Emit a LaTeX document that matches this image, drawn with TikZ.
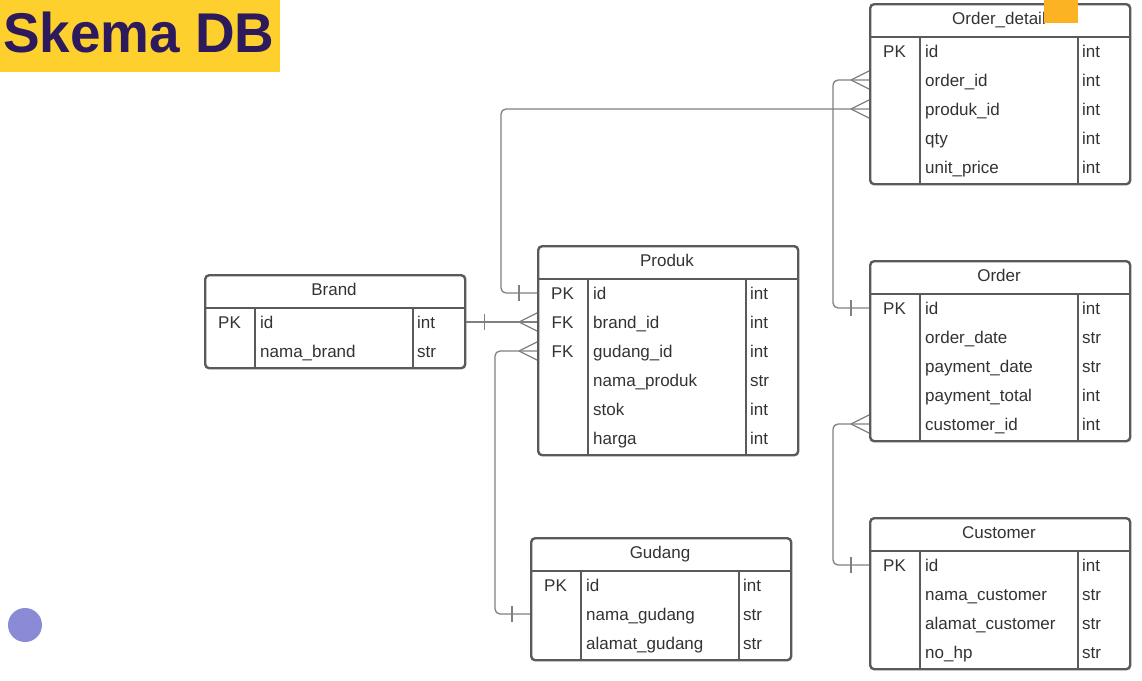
\documentclass[tikz,border=0pt]{standalone}
\usepackage{fontspec}
\setmainfont{Liberation Sans}
\usetikzlibrary{calc}
\definecolor{titlebg}{HTML}{FDD02E}
\definecolor{titlefg}{HTML}{2C1A5C}
\definecolor{framec}{HTML}{5A5A5A}
\definecolor{connc}{HTML}{808080}
\definecolor{txtc}{HTML}{333333}
\definecolor{orangeq}{HTML}{FBB324}
\definecolor{dotc}{HTML}{8A8AD6}
\tikzset{
  tblframe/.style={draw=framec, line width=2.4pt, rounded corners=4pt, inner sep=0pt},
  tblline/.style={draw=framec, line width=2.4pt},
  celltxt/.style={font=\fontsize{17}{20}\selectfont, text=txtc, inner sep=0pt},
  conn/.style={draw=connc, line width=1.3pt, rounded corners=5pt},
  tick/.style={draw=connc, line width=1.3pt}
}
% #1 name, #2 x left, #3 y of header line, #4 title, #5 rows, #6 list key/name/type
\newcommand\ertable[6]{%
  \node[tblframe, anchor=north west, minimum width=260pt,
        minimum height={(64+29*(#5-1))*1pt}] (#1) at (#2,#3-34) {};
  \draw[tblline] (#2,#3) -- (#2+260,#3);
  \draw[tblline] (#2+51,#3) -- (#2+51,#3+30+29*#5-29);
  \draw[tblline] (#2+209,#3) -- (#2+209,#3+30+29*#5-29);
  \node[celltxt, anchor=base] (#1-t) at (#2+130,#3-13) {#4};
  \foreach \k/\n/\t [count=\i] in {#6} {
    \node[celltxt, anchor=base] (#1-k\i) at (#2+25.5,#3+14+29*\i-29+6) {\k};
    \node[celltxt, anchor=base west] (#1-n\i) at (#2+56,#3+14+29*\i-29+6) {\n};
    \node[celltxt, anchor=base west] (#1-y\i) at (#2+213,#3+14+29*\i-29+6) {\t};
  }
}
% connection point on the edge of table #1 (west/east) at row node #2
\newcommand\rowpt[3]{%
  \coordinate (#3) at ($(#1 |- #2.base)+(0,-6)$);
}
% crow's foot on a left-side edge point
\newcommand\crowL[1]{%
  \draw[tick] ($(#1)+(-18,0)$) -- ($(#1)+(0,-9)$);
  \draw[tick] ($(#1)+(-18,0)$) -- ($(#1)+(0,9)$);
}
% bar at distance 18 from an edge point, #2 = +1 or -1 direction outward
\newcommand\barAt[2]{%
  \draw[tick] ($(#1)+(18*#2,-8)$) -- ($(#1)+(18*#2,8)$);
}
\begin{document}
\begin{tikzpicture}[x=1pt,y=-1pt]
\useasboundingbox (0,0) rectangle (1142,680);
\fill[white] (0,0) rectangle (1142,680);

% title
\node[fill=titlebg, anchor=north west, minimum width=280pt, minimum height=72pt, inner sep=0pt] (titlebox) at (0,0) {};
\node[anchor=base west, inner sep=0pt, text=titlefg, font=\fontsize{56}{60}\selectfont\bfseries] (title) at (3,52) {\scalebox{0.98}[1]{Skema DB}};

% tables
\ertable{od}{869}{37}{Order\_detail}{5}{PK/id/int, {}/order\_id/int, {}/produk\_id/int, {}/qty/int, {}/unit\_price/int}
\ertable{or}{869}{294}{Order}{5}{PK/id/int, {}/order\_date/str, {}/payment\_date/str, {}/payment\_total/int, {}/customer\_id/int}
\ertable{cu}{869}{551}{Customer}{4}{PK/id/int, {}/nama\_customer/str, {}/alamat\_customer/str, {}/no\_hp/str}
\ertable{pr}{537}{279}{Produk}{6}{PK/id/int, FK/brand\_id/int, FK/gudang\_id/int, {}/nama\_produk/str, {}/stok/int, {}/harga/int}
\ertable{br}{204}{308}{Brand}{2}{PK/id/int, {}/nama\_brand/str}
\ertable{gu}{530}{571}{Gudang}{3}{PK/id/int, {}/nama\_gudang/str, {}/alamat\_gudang/str}

% connection points
\rowpt{od.west}{od-n2}{odA}
\rowpt{od.west}{od-n3}{odB}
\rowpt{or.west}{or-n1}{orA}
\rowpt{or.west}{or-n5}{orB}
\rowpt{cu.west}{cu-n1}{cuA}
\rowpt{pr.west}{pr-n1}{prA}
\rowpt{pr.west}{pr-n2}{prB}
\rowpt{pr.west}{pr-n3}{prC}
\rowpt{br.east}{br-n1}{brA}
\rowpt{gu.west}{gu-n2}{guA}
\coordinate (j1) at (501,0);
\coordinate (j2) at (833,0);
\coordinate (j3) at (495,0);

% Order_detail.produk_id -> Produk.id
\draw[conn] (odB) -- (odB -| j1) -- (j1 |- prA) -- (prA);
\crowL{odB}
\barAt{prA}{-1}
% Order_detail.order_id -> Order.id
\draw[conn] (odA) -- (odA -| j2) -- (j2 |- orA) -- (orA);
\crowL{odA}
\barAt{orA}{-1}
% Order.customer_id -> Customer.id
\draw[conn] (orB) -- (orB -| j2) -- (j2 |- cuA) -- (cuA);
\crowL{orB}
\barAt{cuA}{-1}
% Brand.id -> Produk.brand_id
\draw[conn] (brA) -- (prB);
\barAt{brA}{1}
\crowL{prB}
% Produk.gudang_id -> Gudang
\draw[conn] (prC) -- (prC -| j3) -- (j3 |- guA) -- (guA);
\crowL{prC}
\barAt{guA}{-1}

% decorations
\fill[orangeq] (1044,0) rectangle (1078,23);
\node[circle, fill=dotc, minimum size=34pt, inner sep=0pt] (dot) at (25,625) {};
\end{tikzpicture}
\end{document}
